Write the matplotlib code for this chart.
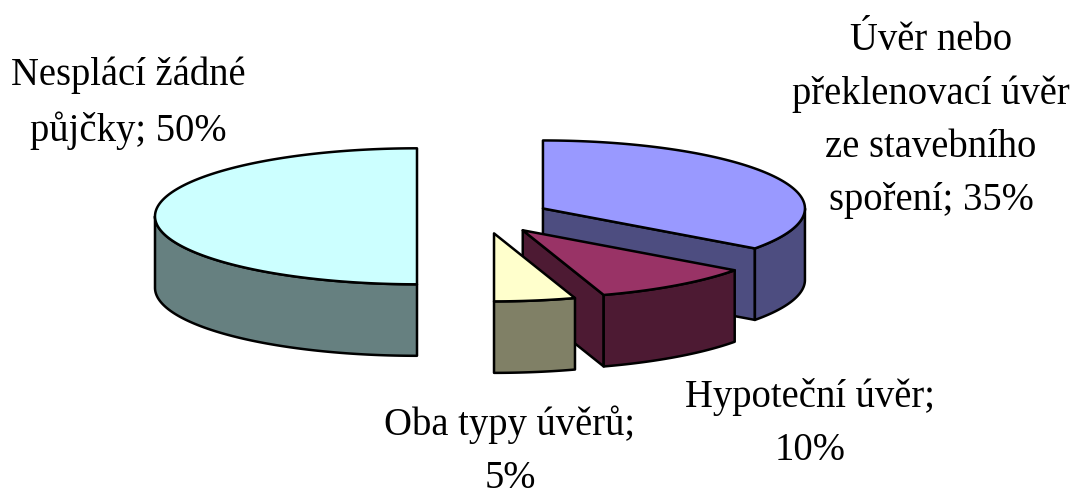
"""Exploded 3-D style pie of loan repayment types, drawn with plain polygons."""

import numpy as np
import matplotlib
matplotlib.use("Agg")
import matplotlib.pyplot as plt
from matplotlib.patches import Polygon

# Slices, clockwise from twelve o'clock
SHARES = [35, 10, 5, 50]
TOP_COLORS = ["#9999FF", "#993366", "#FFFFCC", "#CCFFFF"]
SIDE_COLORS = ["#4D4D80", "#4D1A33", "#808066", "#668080"]

LABELS = [
    "Úvěr nebo\npřeklenovací úvěr\nze stavebního\nspoření; 35%",
    "Hypoteční úvěr;\n10%",
    "Oba typy úvěrů;\n5%",
    "Nesplácí žádné\npůjčky; 50%",
]
LABEL_POS = [(931, 120.5), (810, 423.5), (510, 451), (128, 103.5)]

# Projection of the pie, in pixels
CX, CY = 483.6, 216.3
RX, RY = 262.0, 68.0
DEPTH = 71.5
EXPLODE = 66.6


def rim(cx, cy, a0, a1):
    """Points on the elliptical rim between two clockwise angles (degrees)."""
    n = max(int(abs(a1 - a0)) * 2, 2)
    t = np.radians(np.linspace(a0, a1, n))
    return np.column_stack([cx + RX * np.sin(t), cy - RY * np.cos(t)])


def draw_slice(ax, a0, a1, top, side):
    mid = np.radians((a0 + a1) / 2)
    cx = CX + EXPLODE * np.sin(mid)
    cy = CY - EXPLODE * RY / RX * np.cos(mid)
    apex = np.array([cx, cy])
    down = np.array([0, DEPTH])
    style = dict(edgecolor="black", linewidth=1.8, joinstyle="round")

    # cut faces that turn towards the viewer
    for ang, normal in ((a0, a0 - 90), (a1, a1 + 90)):
        if np.cos(np.radians(normal)) < -1e-6:
            edge = rim(cx, cy, ang, ang)[0]
            face = [apex, edge, edge + down, apex + down]
            ax.add_patch(Polygon(face, facecolor=side, **style))

    # outer wall, only the front half of the rim shows
    lo, hi = max(a0, 90), min(a1, 270)
    if hi > lo:
        arc = rim(cx, cy, lo, hi)
        wall = np.vstack([arc, arc[::-1] + down])
        ax.add_patch(Polygon(wall, facecolor=side, **style))

    pts = np.vstack([apex, rim(cx, cy, a0, a1)])
    ax.add_patch(Polygon(pts, facecolor=top, **style))


def main():
    fig = plt.figure(figsize=(10.71, 4.91), dpi=100)
    ax = fig.add_axes([0, 0, 1, 1])
    ax.set_xlim(0, 1071)
    ax.set_ylim(491, 0)
    ax.axis("off")

    edges = np.cumsum([0] + SHARES) / sum(SHARES) * 360
    for i in [3, 0, 1, 2]:
        draw_slice(ax, edges[i], edges[i + 1], TOP_COLORS[i], SIDE_COLORS[i])

    for label, (x, y) in zip(LABELS, LABEL_POS):
        ax.text(x, y, label, ha="center", va="center", family="Liberation Serif",
                fontsize=27.8, linespacing=1.58, color="black")

    fig.savefig("out.png", dpi=100, facecolor="white")


if __name__ == "__main__":
    main()
